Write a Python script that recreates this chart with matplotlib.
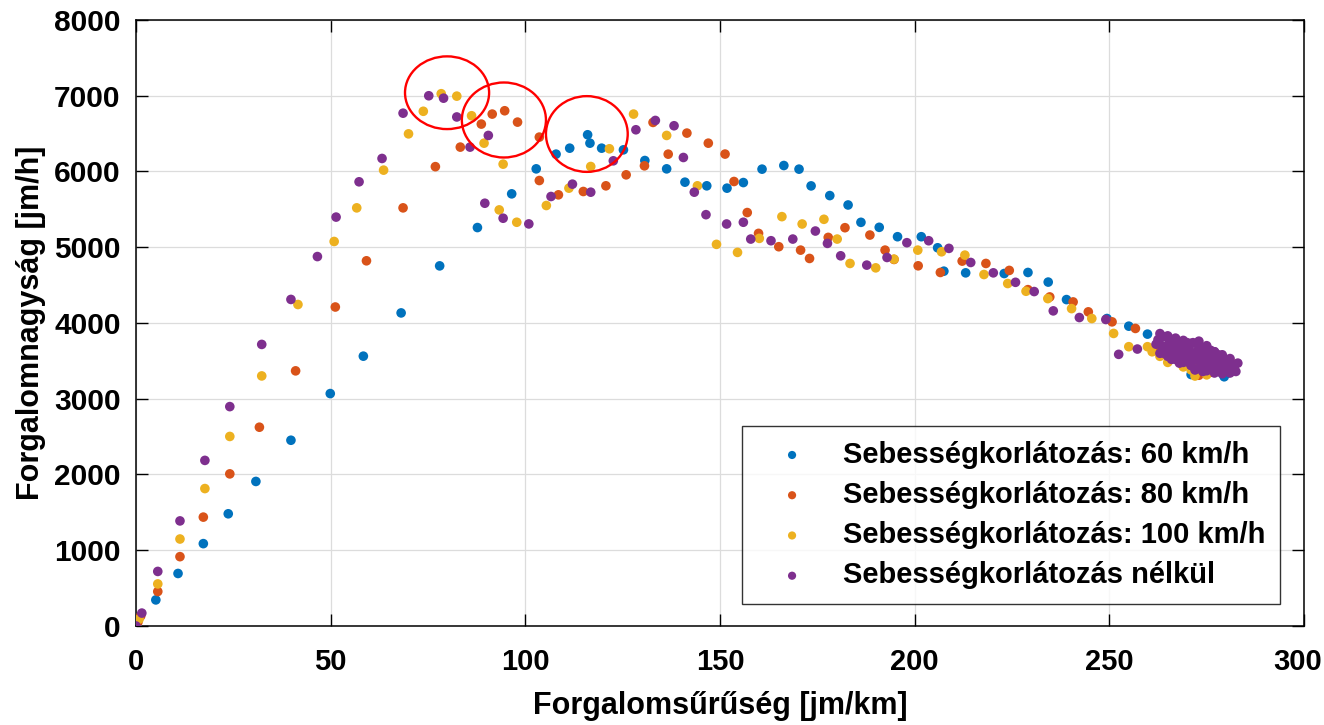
import matplotlib.pyplot as plt
from matplotlib.patches import Ellipse
from matplotlib.transforms import ScaledTranslation

plt.rcParams['font.family'] = ['Liberation Sans', 'DejaVu Sans']
plt.rcParams['font.weight'] = 'bold'

# Sebességkorlátozás: 60 km/h
kor60 = [
    (0.3, 20), (5.1, 344), (10.8, 693), (17.3, 1087), (23.7, 1481), (30.8, 1908),
    (39.8, 2452), (49.9, 3068), (58.4, 3562), (68.1, 4133), (78.0, 4754),
    (87.7, 5260), (96.5, 5705), (102.8, 6035), (107.9, 6229), (111.4, 6308),
    (116.0, 6485), (116.6, 6374), (119.6, 6308), (125.2, 6286), (130.7, 6145),
    (136.3, 6035), (141.0, 5859), (146.6, 5811), (151.8, 5780), (156.0, 5854),
    (160.8, 6031), (166.4, 6079), (170.3, 6031), (173.4, 5810), (178.2, 5682),
    (182.9, 5558), (186.2, 5329), (190.9, 5263), (195.6, 5139), (201.7, 5139),
    (205.9, 4993), (207.5, 4684), (213.1, 4662), (223.0, 4653), (229.1, 4667),
    (234.3, 4540), (239.0, 4309), (249.4, 4059), (255.0, 3958), (259.8, 3853),
    (266.0, 3720), (268.0, 3640), (270.0, 3600), (272.0, 3540), (274.0, 3480),
    (276.0, 3420), (278.0, 3360), (279.5, 3290), (280.5, 3340), (275.0, 3380),
    (281.0, 3480), (271.0, 3320),
]

# Sebességkorlátozás: 80 km/h
kor80 = [
    (0.5, 50), (1.2, 130), (5.6, 455), (11.3, 915), (17.3, 1437), (24.1, 2008),
    (31.7, 2624), (41.0, 3368), (51.2, 4211), (59.2, 4821), (68.6, 5520),
    (76.9, 6064), (83.3, 6322), (88.7, 6626), (91.5, 6758), (94.7, 6802),
    (98.0, 6652), (103.6, 6454), (103.6, 5881), (108.5, 5692), (114.9, 5736),
    (120.7, 5811), (125.9, 5956), (130.6, 6075), (132.8, 6648), (136.7, 6229),
    (141.5, 6507), (147.0, 6374), (151.3, 6230), (153.6, 5868), (157.0, 5458),
    (159.9, 5183), (165.1, 5007), (170.7, 4962), (173.0, 4852), (177.8, 5130),
    (182.1, 5258), (188.5, 5161), (192.4, 4962), (194.7, 4839), (200.9, 4755),
    (206.6, 4667), (212.2, 4817), (218.3, 4786), (224.3, 4694), (229.1, 4440),
    (234.7, 4344), (240.7, 4278), (244.6, 4147), (250.7, 4015), (256.7, 3928),
    (262.0, 3700), (264.0, 3650), (266.0, 3600), (268.0, 3560), (270.0, 3700),
    (272.0, 3460), (274.0, 3400), (276.0, 3350), (278.0, 3480), (280.0, 3380),
    (273.0, 3310), (282.0, 3420),
]

# Sebességkorlátozás: 100 km/h
kor100 = [
    (0.8, 90), (5.6, 555), (11.3, 1148), (17.7, 1814), (24.1, 2502), (32.3, 3301),
    (41.6, 4244), (50.9, 5076), (56.7, 5520), (63.6, 6018), (70.0, 6497),
    (73.8, 6795), (78.4, 7027), (82.4, 6995), (86.2, 6736), (89.4, 6374),
    (94.3, 6097), (93.3, 5493), (97.8, 5330), (105.4, 5551), (111.2, 5780),
    (116.8, 6066), (121.6, 6300), (127.8, 6758), (136.3, 6476), (144.2, 5811),
    (149.1, 5038), (154.5, 4932), (160.1, 5117), (165.9, 5404), (171.1, 5307),
    (176.7, 5369), (180.1, 5108), (183.4, 4786), (190.0, 4728), (194.7, 4843),
    (200.8, 4962), (206.9, 4940), (212.9, 4896), (217.8, 4640), (223.9, 4521),
    (228.6, 4419), (234.2, 4322), (240.3, 4190), (245.5, 4059), (251.1, 3862),
    (255.0, 3687), (259.8, 3687),
    (261.0, 3620), (263.0, 3560), (265.0, 3480), (267.0, 3760), (269.0, 3420),
    (271.0, 3380), (273.0, 3440), (275.0, 3315), (277.0, 3560), (279.0, 3350),
    (281.0, 3500), (272.0, 3300),
]

# Sebességkorlátozás nélkül
nelkul = [
    (0.0, 0), (1.5, 170), (5.6, 720), (11.3, 1387), (17.7, 2186), (24.1, 2896),
    (32.3, 3717), (39.8, 4311), (46.6, 4877), (51.4, 5398), (57.3, 5864),
    (63.2, 6172), (68.6, 6770), (75.2, 7000), (79.0, 6968), (82.4, 6720),
    (85.8, 6322), (90.5, 6476), (89.6, 5581), (94.3, 5383), (100.9, 5308),
    (106.6, 5670), (112.1, 5833), (116.8, 5727), (122.6, 6141), (128.4, 6551),
    (133.4, 6674), (138.2, 6604), (140.6, 6185), (143.4, 5727), (146.4, 5430),
    (151.7, 5307), (156.0, 5330), (157.9, 5108), (163.1, 5086), (168.7, 5108),
    (174.5, 5214), (177.6, 5051), (181.0, 4887), (187.7, 4764), (192.9, 4865),
    (198.0, 5060), (203.6, 5086), (208.8, 4985), (214.4, 4799), (220.2, 4662),
    (225.9, 4537), (230.7, 4415), (235.6, 4160), (242.3, 4072), (249.1, 4046),
    (252.4, 3586), (257.2, 3656),
    # sűrű csomó a végén
    (262.5, 3780), (263.5, 3700), (264.0, 3820), (265.0, 3640), (265.5, 3760),
    (266.0, 3700), (266.5, 3580), (267.0, 3800), (267.5, 3660), (268.0, 3740),
    (268.5, 3560), (269.0, 3620), (269.5, 3700), (270.0, 3500), (270.5, 3660),
    (271.0, 3580), (271.5, 3740), (272.0, 3520), (272.5, 3620), (273.0, 3680),
    (273.5, 3460), (274.0, 3560), (274.5, 3620), (275.0, 3500), (275.5, 3440),
    (276.0, 3560), (276.5, 3400), (277.0, 3520), (277.5, 3460), (278.0, 3580),
    (278.5, 3420), (279.0, 3500), (279.5, 3380), (280.0, 3460), (280.5, 3420),
    (281.0, 3380), (281.5, 3440), (282.0, 3400), (282.5, 3360), (270.0, 3740),
    (268.0, 3470), (272.0, 3380), (274.0, 3360), (276.0, 3640), (266.0, 3520),
    (264.0, 3600), (271.0, 3440), (273.0, 3760), (275.0, 3700), (277.0, 3620),
    (263.0, 3860), (265.0, 3830), (267.0, 3790), (269.0, 3770), (271.0, 3730),
    (273.0, 3700), (275.0, 3660), (277.0, 3620), (279.0, 3580), (281.0, 3530),
    (283.0, 3470), (262.0, 3720), (264.0, 3690), (266.0, 3660), (268.0, 3630),
    (270.0, 3600), (272.0, 3570), (274.0, 3540), (276.0, 3500), (278.0, 3470),
    (280.0, 3440), (282.0, 3410), (263.0, 3600), (265.0, 3560), (267.0, 3520),
    (269.0, 3480), (271.0, 3440), (273.0, 3400), (275.0, 3370), (277.0, 3340),
    (279.0, 3330), (281.0, 3340),
]

series = [kor60, kor80, kor100, nelkul]
labels = ['Sebességkorlátozás: 60 km/h', 'Sebességkorlátozás: 80 km/h',
          'Sebességkorlátozás: 100 km/h', 'Sebességkorlátozás nélkül']
colors = ['#0072BD', '#D95319', '#EDB120', '#7E2F8E']

# bekarikázott csúcsok: (x, y, szélesség, magasság)
karikak = [(79.9, 7040, 21.6, 960), (94.5, 6680, 21.6, 990), (115.8, 6495, 21.0, 1000)]

fig = plt.figure(figsize=(13.24, 7.25), dpi=100)
ax = fig.add_axes([0.1027, 0.1366, 0.8822, 0.8358])

for pts, lab, c in zip(series, labels, colors):
    xs = [p[0] for p in pts]
    ys = [p[1] for p in pts]
    ax.scatter(xs, ys, s=48, color=c, edgecolors='none', label=lab, zorder=3)

for cx, cy, w, h in karikak:
    ax.add_patch(Ellipse((cx, cy), w, h, fill=False, edgecolor='red', lw=1.7, zorder=4))

ax.set_xlim(0, 300)
ax.set_ylim(0, 8000)
ax.set_xticks(range(0, 301, 50))
ax.set_yticks(range(0, 8001, 1000))
ax.grid(True, color='#dcdcdc', lw=0.9)
ax.set_axisbelow(True)
ax.tick_params(direction='in', length=8.5, width=1, top=True, right=True, labelsize=21.5)
ax.tick_params(axis='x', pad=16, labelsize=21)
ax.tick_params(axis='y', pad=11)
for sp in ax.spines.values():
    sp.set_linewidth(1.1)

# a "300" felirat ne lógjon ki a képből
utolso = ax.get_xticklabels()[-1]
utolso.set_transform(utolso.get_transform() + ScaledTranslation(-6 / 100, 0, fig.dpi_scale_trans))

ax.set_xlabel('Forgalomsűrűség [jm/km]', fontsize=22, fontweight='bold', labelpad=11)
ax.set_ylabel('Forgalomnagyság [jm/h]', fontsize=22, fontweight='bold', labelpad=6)

leg = ax.legend(loc='lower right', bbox_to_anchor=(0.9795, 0.0363), fontsize=21,
                markerscale=0.85, frameon=True, fancybox=False, borderpad=0.5,
                handlelength=2.4, handletextpad=0.55, labelspacing=0.42,
                borderaxespad=0)
leg.get_frame().set_edgecolor('black')
leg.get_frame().set_linewidth(1.0)

fig.savefig('out.png', dpi=100)
